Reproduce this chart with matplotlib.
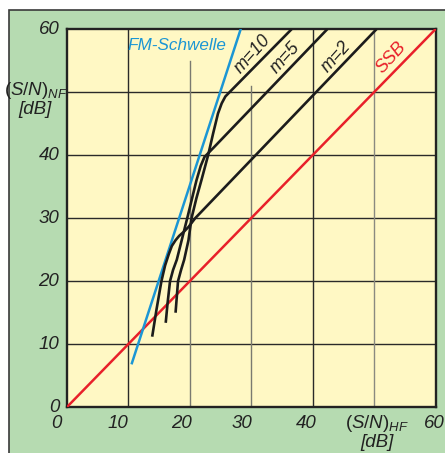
import matplotlib
matplotlib.use("Agg")
import matplotlib.pyplot as plt
from matplotlib.patches import Rectangle
from matplotlib import font_manager

# S/N curves (dB)
ssb_x = [0, 60]
ssb_y = [0, 60]
fm_x = [10.6, 28.3]
fm_y = [7.0, 60.0]

m2_x = [13.9, 14.6, 15.4, 16.0, 16.6, 17.1, 17.7, 18.3, 19.0, 19.8, 20.9, 50.4]
m2_y = [11.2, 15.5, 20.0, 22.5, 24.3, 25.6, 26.5, 27.2, 27.8, 28.6, 30.0, 60.0]

m5_x = [16.1, 16.4, 16.8, 17.3, 17.9, 18.7, 19.6, 20.4, 21.1, 21.8, 22.4, 23.1, 24.0, 42.4]
m5_y = [13.4, 16.5, 20.0, 21.8, 23.4, 26.5, 30.0, 33.2, 36.0, 38.3, 39.7, 40.4, 41.3, 60.0]

m10_x = [17.7, 17.9, 18.1, 18.6, 19.1, 19.8, 20.3, 21.1, 21.9, 23.0, 23.8, 24.6, 25.2, 25.8, 26.6, 36.6]
m10_y = [15.0, 17.5, 20.0, 21.8, 23.4, 26.5, 30.0, 33.2, 36.0, 40.0, 43.4, 46.6, 48.2, 49.3, 50.1, 60.0]

ticks = [0, 10, 20, 30, 40, 50, 60]
xtick_labels = ["0", "10", "20", "30", "40", "", "60"]
ytick_labels = ["0", "10", "20", "30", "40", "", "60"]

# vertical grid lines: top end of each line (some stop short)
vgrid_x = [10, 20, 30, 40, 50]
vgrid_top = [60, 55, 51, 60, 60]
vgrid_col = ["#2a2a2a", "#7a7a70", "#7a7a70", "#2a2a2a", "#8a8a80"]

names = {f.name for f in font_manager.fontManager.ttflist}
NARROW = "Liberation Sans Narrow" if "Liberation Sans Narrow" in names else "Liberation Sans"
FAM = [NARROW, "DejaVu Sans"]
plt.rcParams["font.family"] = FAM
plt.rcParams["mathtext.fontset"] = "custom"
plt.rcParams["mathtext.it"] = NARROW + ":italic"
plt.rcParams["mathtext.rm"] = NARROW

GREEN = "#b6dbb1"
YELLOW = "#fff8c4"
BLUE = "#1b96d4"
RED = "#e8202a"
INK = "#222222"

fig = plt.figure(figsize=(4.45, 4.53), dpi=100, facecolor="white")
fig.patches.append(Rectangle((8.5 / 445, -0.05), 1.1, 1 - 10 / 453 + 0.05,
                             transform=fig.transFigure, facecolor=GREEN,
                             edgecolor="#3a3a3a", lw=1.2, zorder=-5))

ax = fig.add_axes([66.7 / 445, 1 - 407.3 / 453, 369 / 445, 378.3 / 453])
ax.set_zorder(2)
ax.set_facecolor(YELLOW)
ax.set_xlim(0, 60)
ax.set_ylim(0, 60)
ax.set_xticks([])
ax.set_yticks([])
for s in ax.spines.values():
    s.set_linewidth(1.7)
    s.set_color(INK)

for yv in ticks[1:-1]:
    ax.axhline(yv, color="#2a2a2a", lw=1.0, zorder=1)
for xv, top, c in zip(vgrid_x, vgrid_top, vgrid_col):
    ax.plot([xv, xv], [0, top], color=c, lw=1.0, zorder=1)

ax.plot(ssb_x, ssb_y, color=RED, lw=1.8, zorder=3)
ax.plot(fm_x, fm_y, color=BLUE, lw=1.8, zorder=3)
for xs, ys in [(m2_x, m2_y), (m5_x, m5_y), (m10_x, m10_y)]:
    ax.plot(xs, ys, color="#1c1c1c", lw=1.9, zorder=4,
            solid_joinstyle="round", solid_capstyle="butt")

tk = dict(fontsize=13.5, style="italic", color=INK, clip_on=False)
x_off = [-0.8, 10.0, 20.3, 30.2, 40.6, 0, 61.4]
for xv, lab in zip(x_off, xtick_labels):
    if lab:
        ax.text(xv, -2.6, lab, ha="right", va="center", **tk)
for yv, lab in zip(ticks, ytick_labels):
    if lab:
        ax.text(-1.2, yv, lab, ha="right", va="center", **tk)

ax.text(-5.0, 50.3, r"$(S/N)_{NF}$", ha="center", va="center", **tk)
ax.text(-5.1, 47.3, "[dB]", ha="center", va="center", **tk)
ax.text(50.45, -2.6, r"$(S/N)_{HF}$", ha="center", va="center", **tk)
ax.text(50.45, -5.6, "[dB]", ha="center", va="center", **tk)

lab = dict(fontsize=13, style="italic", ha="center", va="center", zorder=5)
ax.text(18.0, 57.4, "FM-Schwelle", color=BLUE,
        **{**lab, "fontsize": 12.3})
ax.text(30.2, 56.0, "m=10", color=INK, rotation=48, **lab)
ax.text(35.6, 55.5, "m=5", color=INK, rotation=48, **lab)
ax.text(43.8, 55.6, "m=2", color=INK, rotation=48, **lab)
ax.text(52.7, 55.4, "SSB", color=RED, rotation=48, **lab)

fig.savefig("out.png", dpi=100, facecolor=fig.get_facecolor())
